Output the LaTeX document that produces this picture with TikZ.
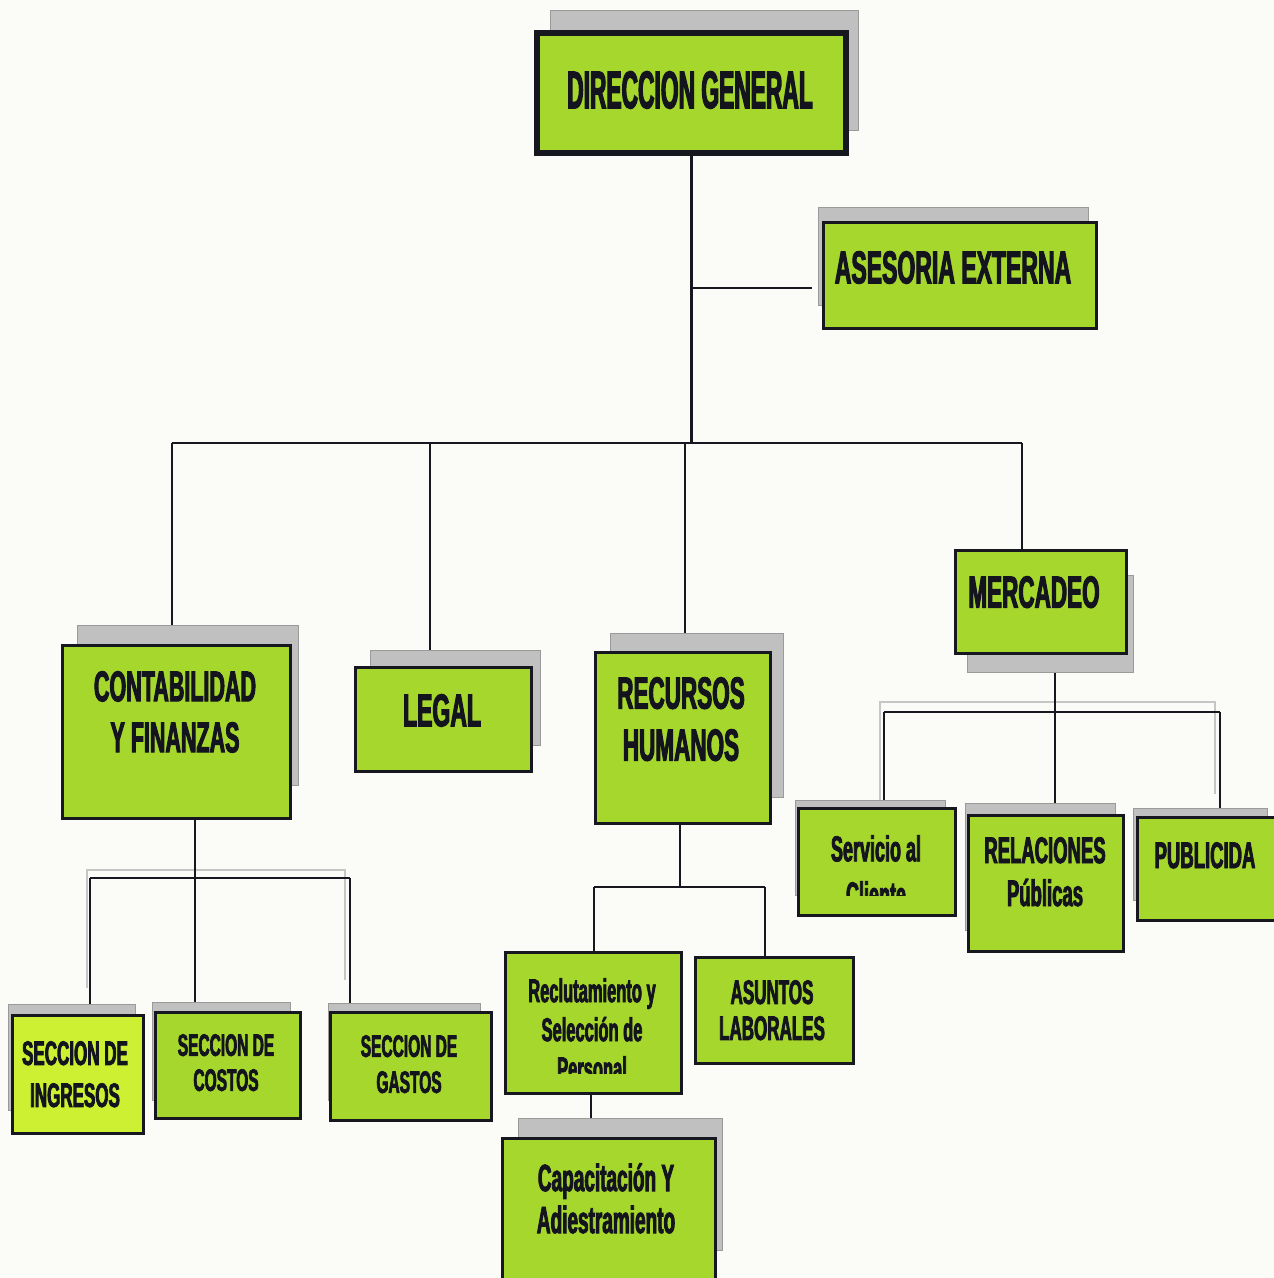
\documentclass[tikz,border=0pt]{standalone}
\usepackage{fontspec}
\newfontfamily\cnd[FakeStretch=0.5,FakeBold=2.2]{Liberation Sans Bold}
\newfontfamily\cndd[FakeStretch=0.43,FakeBold=2.2]{Liberation Sans Bold}
\newcommand\setfsz[2]{\fontsize{#1}{#2}\selectfont}
\definecolor{paper}{HTML}{FBFBF8}
\definecolor{limefill}{HTML}{A6D72C}
\definecolor{limebright}{HTML}{CDF032}
\definecolor{shade}{HTML}{C0C0C0}
\definecolor{shadeedge}{HTML}{9A9A9A}
\definecolor{edge}{HTML}{17171F}
\definecolor{ink}{HTML}{14141E}
\tikzset{
  boxn/.style={draw=edge, line width=3pt, fill=limefill, inner sep=0pt, anchor=north west},
  shad/.style={fill=shade, draw=shadeedge, line width=0.8pt},
  conn/.style={draw=edge, line width=2.6pt},
  ghost/.style={draw=gray!45, line width=1.6pt},
  txt/.style={text=ink, align=center, inner sep=0pt, anchor=north}
}
\begin{document}
\begin{tikzpicture}[x=1pt,y=-1pt]
\useasboundingbox (0,0) rectangle (1274,1278);
\fill[paper] (0,0) rectangle (1274,1278);

% ---------- coordinates for connector joints
\coordinate (aseJ) at (690,288);
\coordinate (bL) at (172,443);
\coordinate (bLeg) at (430,443);
\coordinate (bRh) at (685,443);
\coordinate (bR) at (1022,443);
\coordinate (mL) at (884,712);
\coordinate (mM) at (1055,712);
\coordinate (mR) at (1220,712);
\coordinate (cL) at (90,878);
\coordinate (cM) at (195,878);
\coordinate (cR) at (350,878);
\coordinate (rL) at (594,887);
\coordinate (rM) at (680,887);
\coordinate (rR) at (765,887);

% ---------- boxes (placed invisibly first for names)
\path
  node[boxn, draw=none, fill=none, minimum width=306, minimum height=117] (dg) at (537,33) {}
  node[boxn, draw=none, fill=none, minimum width=270, minimum height=103] (ase) at (823,222) {}
  node[boxn, draw=none, fill=none, minimum width=225, minimum height=170] (cf) at (62,645) {}
  node[boxn, draw=none, fill=none, minimum width=173, minimum height=101] (leg) at (355,667) {}
  node[boxn, draw=none, fill=none, minimum width=172, minimum height=168] (rh) at (595,652) {}
  node[boxn, draw=none, fill=none, minimum width=168, minimum height=100] (mer) at (955,550) {}
  node[boxn, draw=none, fill=none, minimum width=154, minimum height=104] (sc) at (798,808) {}
  node[boxn, draw=none, fill=none, minimum width=152, minimum height=133] (rp) at (968,815) {}
  node[boxn, draw=none, fill=none, minimum width=136, minimum height=100] (pub) at (1137,817) {}
  node[boxn, draw=none, fill=none, minimum width=128, minimum height=115] (ing) at (12,1015) {}
  node[boxn, draw=none, fill=none, minimum width=142, minimum height=103] (cos) at (155,1012) {}
  node[boxn, draw=none, fill=none, minimum width=158, minimum height=105] (gas) at (330,1012) {}
  node[boxn, draw=none, fill=none, minimum width=173, minimum height=138] (rec) at (505,952) {}
  node[boxn, draw=none, fill=none, minimum width=155, minimum height=103] (asu) at (695,957) {}
  node[boxn, draw=none, fill=none, minimum width=210, minimum height=140] (cap) at (502,1138) {};

% ---------- faint scan ghosts of the lower bars
\draw[ghost] (mL) ++(-4,88) -- ++(0,-98) -- ++(335,0) -- ++(0,92);
\draw[ghost] (cL) ++(-3,110) -- ++(0,-118) -- ++(258,0) -- ++(0,110);

% ---------- connectors
\draw[conn] (dg.south) -- (dg.south |- bL);
\draw[conn] (aseJ) -- ([xshift=-11pt]ase.west |- aseJ);
\draw[conn] (bL) -- (bR);
\draw[conn] (bL) -- (cf.north -| bL);
\draw[conn] (bLeg) -- (leg.north -| bLeg);
\draw[conn] (bRh) -- (rh.north -| bRh);
\draw[conn] (bR) -- (mer.north -| bR);
\draw[conn] (mer.south -| mM) -- (rp.north -| mM);
\draw[conn] (mL) -- (mR);
\draw[conn] (mL) -- (sc.north -| mL);
\draw[conn] (mR) -- (pub.north -| mR);
\draw[conn] (cf.south -| cM) -- (cos.north -| cM);
\draw[conn] (cL) -- (cR);
\draw[conn] (cL) -- (ing.north -| cL);
\draw[conn] (cR) -- (gas.north -| cR);
\draw[conn] (rh.south -| rM) -- (rM);
\draw[conn] (rL) -- (rR);
\draw[conn] (rL) -- (rec.north -| rL);
\draw[conn] (rR) -- (asu.north -| rR);
\draw[conn] (rec.south -| 591,0) -- (cap.north -| 591,0);

% ---------- shadows
\fill[shad] (550,10) rectangle (858,130);
\fill[shad] (818,207) rectangle (1088,305);
\fill[shad] (77,625) rectangle (298,785);
\fill[shad] (370,650) rectangle (540,745);
\fill[shad] (610,633) rectangle (783,797);
\fill[shad] (967,575) rectangle (1133,672);
\fill[shad] (795,800) rectangle (945,895);
\fill[shad] (965,803) rectangle (1115,930);
\fill[shad] (1133,808) rectangle (1267,900);
\fill[shad] (8,1004) rectangle (135,1110);
\fill[shad] (152,1002) rectangle (290,1100);
\fill[shad] (328,1003) rectangle (480,1100);
\fill[shad] (518,1118) rectangle (722,1250);

% ---------- visible boxes
\draw[boxn, line width=6pt] (dg.north west) rectangle (dg.south east);
\draw[boxn] (ase.north west) rectangle (ase.south east);
\draw[boxn] (cf.north west) rectangle (cf.south east);
\draw[boxn] (leg.north west) rectangle (leg.south east);
\draw[boxn] (rh.north west) rectangle (rh.south east);
\draw[boxn] (mer.north west) rectangle (mer.south east);
\draw[boxn] (sc.north west) rectangle (sc.south east);
\draw[boxn] (rp.north west) rectangle (rp.south east);
\draw[boxn] (pub.north west) rectangle (pub.south east);
\draw[boxn, fill=limebright] (ing.north west) rectangle (ing.south east);
\draw[boxn] (cos.north west) rectangle (cos.south east);
\draw[boxn] (gas.north west) rectangle (gas.south east);
\draw[boxn] (rec.north west) rectangle (rec.south east);
\draw[boxn] (asu.north west) rectangle (asu.south east);
\draw[boxn] (cap.north west) rectangle (cap.south east);

% ---------- texts
\node[txt, font=\cndd\setfsz{53}{56}] (dgT) at (690,71) {DIRECCION GENERAL};
\node[txt, font=\cnd\setfsz{46}{50}] (aseT) at (953,251) {ASESORIA EXTERNA};
\node[txt, font=\cnd\setfsz{43}{51}] (cfT) at (175,671) {CONTABILIDAD\\Y FINANZAS};
\node[txt, font=\cnd\setfsz{46}{50}] (legT) at (442,694) {LEGAL};
\node[txt, font=\cnd\setfsz{45}{52}] (rhT) at (681,677) {RECURSOS\\HUMANOS};
\node[txt, font=\cnd\setfsz{45}{50}] (merT) at (1034,576) {MERCADEO};
\begin{scope}
  \clip (sc.north west) rectangle (952,895);
  \node[txt, font=\cnd\setfsz{36}{46}] (scT) at (876,835) {Servicio al\\Cliente};
\end{scope}
\node[txt, font=\cnd\setfsz{37}{43}] (rpT) at (1045,837) {RELACIONES\\Públicas};
\node[txt, font=\cnd\setfsz{37}{40}] (pubT) at (1205,842) {PUBLICIDA};
\node[txt, font=\cnd\setfsz{34}{42}] (ingT) at (75,1041) {SECCION DE\\INGRESOS};
\node[txt, font=\cnd\setfsz{31}{35}] (cosT) at (226,1034) {SECCION DE\\COSTOS};
\node[txt, font=\cnd\setfsz{31}{36}] (gasT) at (409,1035) {SECCION DE\\GASTOS};
\begin{scope}
  \clip (rec.north west) rectangle (678,1073);
  \node[txt, font=\cnd\setfsz{33}{39}] (recT) at (592,978) {Reclutamiento y\\Selección de\\Personal};
\end{scope}
\node[txt, font=\cnd\setfsz{34}{36}] (asuT) at (772,980) {ASUNTOS\\LABORALES};
\node[txt, font=\cnd\setfsz{38}{42}] (capT) at (606,1163) {Capacitación Y\\Adiestramiento};
\end{tikzpicture}
\end{document}
